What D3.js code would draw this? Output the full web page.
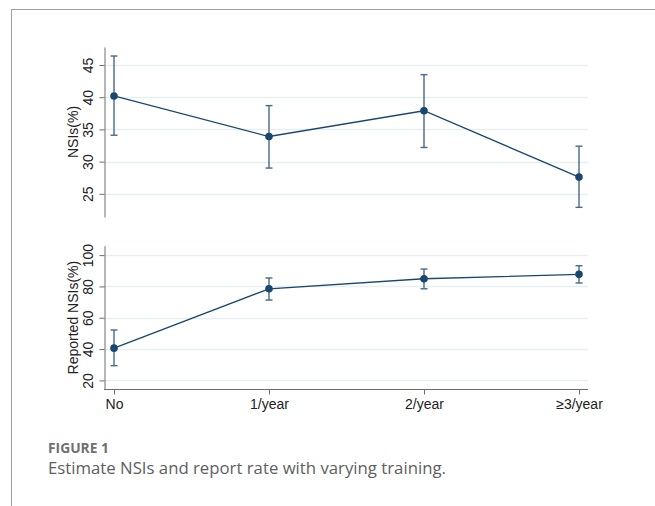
<!DOCTYPE html>
<html>
<head>
<meta charset="utf-8">
<script src="https://cdn.jsdelivr.net/npm/d3@7"></script>
<style>
  html, body { margin: 0; padding: 0; background: #fff; }
  svg { display: block; }
</style>
</head>
<body>
<svg id="chart" width="655" height="506"></svg>
<script>
// Training frequency groups
const categories = ["No", "1/year", "2/year", "\u22653/year"];

// Needle-stick injury rate (%) with 95% CI
const nsiRate  = [40.2, 33.9, 37.9, 27.6];
const nsiLower = [34.1, 29.0, 32.2, 22.9];
const nsiUpper = [46.4, 38.7, 43.5, 32.4];
const nsiTicks = [25, 30, 35, 40, 45];

// Share of NSIs that were reported (%) with 95% CI
const repRate  = [40.6, 78.5, 84.9, 87.7];
const repLower = [29.4, 71.3, 78.5, 82.2];
const repUpper = [52.2, 85.4, 91.1, 93.2];
const repTicks = [20, 40, 60, 80, 100];

const svg = d3.select("#chart");
const navy = "#1a476f";
const whiskerColor = "#48698a";
const gridColor = "#e8eff3";
const axisColor = "#6e6e6e";
const font = "'Liberation Sans', Arial, sans-serif";
const captionFont = "'Open Sans', Lato, sans-serif";

// Frame lines around the figure
svg.append("line").attr("x1", 11).attr("y1", 9.5).attr("x2", 655).attr("y2", 9.5)
  .attr("stroke", "#a0a0a0").attr("stroke-width", 1);
svg.append("line").attr("x1", 11.5).attr("y1", 9).attr("x2", 11.5).attr("y2", 506)
  .attr("stroke", "#a0a0a0").attr("stroke-width", 1);

const axisX = 104, gridRight = 588;
const x = d3.scalePoint().domain(categories).range([114, 579]);

function panel(cfg) {
  const y = d3.scaleLinear().domain(cfg.domain).range(cfg.range);
  const g = svg.append("g");

  // horizontal grid
  g.selectAll("line.grid").data(cfg.ticks).join("line")
    .attr("class", "grid")
    .attr("x1", axisX).attr("x2", gridRight)
    .attr("y1", d => Math.round(y(d)) + 0.5).attr("y2", d => Math.round(y(d)) + 0.5)
    .attr("stroke", gridColor).attr("stroke-width", 1.3);

  // y axis
  const ax = g.append("g").attr("transform", `translate(${axisX + 0.5},0)`)
    .call(d3.axisLeft(y).tickValues(cfg.ticks).tickSize(5).tickSizeOuter(0).tickPadding(3));
  ax.select(".domain").attr("stroke", axisColor);
  ax.selectAll(".tick line").attr("stroke", axisColor);
  ax.selectAll(".tick text")
    .attr("font-family", font).attr("font-size", 14).attr("fill", "#222")
    .attr("transform", "rotate(-90)")
    .attr("x", 0).attr("y", -12).attr("dy", 0)
    .attr("text-anchor", "middle");

  // axis title
  const yc = (cfg.range[0] + cfg.range[1]) / 2;
  g.append("text")
    .attr("transform", `translate(78,${yc}) rotate(-90)`)
    .attr("text-anchor", "middle")
    .attr("font-family", font).attr("font-size", 14).attr("fill", "#222")
    .text(cfg.title);

  // confidence interval whiskers
  const ci = g.append("g").attr("stroke", whiskerColor).attr("stroke-width", 1.4);
  categories.forEach((c, i) => {
    const cx = x(c);
    ci.append("line").attr("x1", cx).attr("x2", cx)
      .attr("y1", y(cfg.lower[i])).attr("y2", y(cfg.upper[i]));
    [cfg.lower[i], cfg.upper[i]].forEach(v => {
      ci.append("line").attr("x1", cx - 3.5).attr("x2", cx + 3.5)
        .attr("y1", y(v)).attr("y2", y(v));
    });
  });

  // connecting line
  const pts = categories.map((c, i) => [x(c), y(cfg.values[i])]);
  g.append("path").attr("d", d3.line()(pts))
    .attr("fill", "none").attr("stroke", navy).attr("stroke-width", 1.3);

  // point estimates
  g.selectAll("circle").data(pts).join("circle")
    .attr("cx", d => d[0]).attr("cy", d => d[1]).attr("r", 3.8)
    .attr("fill", navy);

  return y;
}

panel({
  domain: [21.4, 47.8], range: [217, 47], ticks: nsiTicks,
  values: nsiRate, lower: nsiLower, upper: nsiUpper, title: "NSIs(%)"
});

panel({
  domain: [14.2, 106], range: [389.5, 245.7], ticks: repTicks,
  values: repRate, lower: repLower, upper: repUpper, title: "Reported NSIs(%)"
});

// shared x axis under the lower panel
const xa = svg.append("g").attr("transform", "translate(0,389.5)")
  .call(d3.axisBottom(x).tickSize(5).tickSizeOuter(0).tickPadding(5));
xa.select(".domain").attr("d", `M${axisX},0H${gridRight}`).attr("stroke", axisColor);
xa.selectAll(".tick line").attr("stroke", axisColor);
xa.selectAll(".tick text")
  .attr("font-family", font).attr("font-size", 14).attr("fill", "#222");

// caption, sized so each line spans its set width
function fitText(el, width, base) {
  const w = el.node().getComputedTextLength();
  if (w > 0) el.attr("font-size", base * width / w);
}
const capHead = svg.append("text").attr("x", 48).attr("y", 453)
  .attr("font-family", captionFont).attr("font-weight", "bold")
  .attr("font-size", 12).attr("fill", "#707070")
  .text("FIGURE 1");
fitText(capHead, 61, 12);
const capBody = svg.append("text").attr("x", 48).attr("y", 474)
  .attr("font-family", captionFont)
  .attr("font-size", 16).attr("fill", "#5e5e5e")
  .text("Estimate NSIs and report rate with varying training.");
fitText(capBody, 398, 16);
</script>
</body>
</html>
